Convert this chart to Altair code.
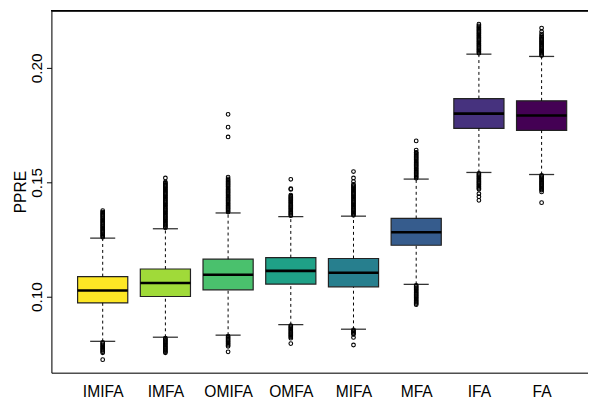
import json
import altair as alt
import pandas as pd

# ---- data ----
categories = ["IMIFA", "IMFA", "OMIFA", "OMFA", "MIFA", "MFA", "IFA", "FA"]
colors = ["#FDE725", "#A0DA39", "#4AC16D", "#1FA187", "#277F8E", "#365C8D", "#46327E", "#440154"]

q1 = [0.0973, 0.1001, 0.1030, 0.1055, 0.1043, 0.1225, 0.1736, 0.1727]
median = [0.1027, 0.1060, 0.1096, 0.1113, 0.1105, 0.1282, 0.1800, 0.1792]
q3 = [0.1088, 0.1121, 0.1164, 0.1171, 0.1167, 0.1342, 0.1866, 0.1856]
whisker_low = [0.0805, 0.0823, 0.0832, 0.0878, 0.0858, 0.1054, 0.1543, 0.1534]
whisker_high = [0.1256, 0.1297, 0.1366, 0.1350, 0.1352, 0.1514, 0.2060, 0.2050]

outliers = {
    "IMIFA": [0.1260, 0.1265, 0.1270, 0.1275, 0.1280, 0.1285, 0.1290, 0.1295, 0.1300,
              0.1305, 0.1310, 0.1315, 0.1320, 0.1325, 0.1330, 0.1335, 0.1340, 0.1345,
              0.1350, 0.1355, 0.1360, 0.1365, 0.1370, 0.1376,
              0.0800, 0.0795, 0.0790, 0.0785, 0.0780, 0.0775, 0.0770, 0.0765, 0.0760,
              0.0755, 0.0725],
    "IMFA": [0.1301, 0.1306, 0.1311, 0.1316, 0.1321, 0.1326, 0.1331, 0.1336, 0.1341,
             0.1346, 0.1351, 0.1356, 0.1361, 0.1366, 0.1371, 0.1376, 0.1381, 0.1386,
             0.1391, 0.1396, 0.1401, 0.1406, 0.1411, 0.1416, 0.1421, 0.1426, 0.1431,
             0.1436, 0.1441, 0.1446, 0.1451, 0.1456, 0.1461, 0.1466, 0.1471, 0.1476,
             0.1481, 0.1486, 0.1491, 0.1496, 0.1501, 0.1519,
             0.0819, 0.0814, 0.0809, 0.0804, 0.0799, 0.0794, 0.0789, 0.0784, 0.0779,
             0.0774, 0.0769, 0.0764, 0.0759, 0.0755],
    "OMIFA": [0.1370, 0.1375, 0.1380, 0.1385, 0.1390, 0.1395, 0.1400, 0.1405, 0.1410,
              0.1415, 0.1420, 0.1425, 0.1430, 0.1435, 0.1440, 0.1445, 0.1450, 0.1455,
              0.1460, 0.1465, 0.1470, 0.1475, 0.1480, 0.1485, 0.1490, 0.1495, 0.1500,
              0.1505, 0.1510, 0.1515, 0.1523, 0.1698, 0.1741, 0.1797,
              0.0828, 0.0823, 0.0818, 0.0813, 0.0808, 0.0803, 0.0798, 0.0793, 0.0788,
              0.0783, 0.0759],
    "OMFA": [0.1354, 0.1359, 0.1364, 0.1369, 0.1374, 0.1379, 0.1384, 0.1389, 0.1394,
             0.1399, 0.1404, 0.1409, 0.1414, 0.1419, 0.1424, 0.1429, 0.1434, 0.1439,
             0.1444, 0.1469, 0.1472, 0.1513,
             0.0874, 0.0869, 0.0864, 0.0859, 0.0854, 0.0849, 0.0844, 0.0839, 0.0834,
             0.0829, 0.0824, 0.0819, 0.0795],
    "MIFA": [0.1356, 0.1361, 0.1366, 0.1371, 0.1376, 0.1381, 0.1386, 0.1391, 0.1396,
             0.1401, 0.1406, 0.1411, 0.1416, 0.1421, 0.1426, 0.1431, 0.1436, 0.1441,
             0.1446, 0.1451, 0.1456, 0.1461, 0.1466, 0.1471, 0.1476, 0.1481, 0.1486,
             0.1491, 0.1503, 0.1519, 0.1547,
             0.0855, 0.0850, 0.0845, 0.0840, 0.0836, 0.0822, 0.0789],
    "MFA": [0.1518, 0.1523, 0.1528, 0.1533, 0.1538, 0.1543, 0.1548, 0.1553, 0.1558,
            0.1563, 0.1568, 0.1573, 0.1578, 0.1583, 0.1588, 0.1593, 0.1598, 0.1603,
            0.1608, 0.1613, 0.1618, 0.1623, 0.1628, 0.1631, 0.1641, 0.1681,
            0.1050, 0.1045, 0.1040, 0.1035, 0.1030, 0.1025, 0.1020, 0.1015, 0.1010,
            0.1005, 0.1000, 0.0995, 0.0990, 0.0985, 0.0980, 0.0975, 0.0970, 0.0965],
    "IFA": [0.2064, 0.2069, 0.2074, 0.2079, 0.2084, 0.2089, 0.2094, 0.2099, 0.2104,
            0.2109, 0.2114, 0.2119, 0.2124, 0.2129, 0.2134, 0.2139, 0.2144, 0.2149,
            0.2154, 0.2159, 0.2164, 0.2169, 0.2174, 0.2179, 0.2184, 0.2191,
            0.1539, 0.1534, 0.1529, 0.1524, 0.1519, 0.1514, 0.1509, 0.1504, 0.1499,
            0.1494, 0.1489, 0.1484, 0.1479, 0.1474, 0.1470, 0.1450, 0.1437, 0.1421],
    "FA": [0.2054, 0.2059, 0.2064, 0.2069, 0.2074, 0.2079, 0.2084, 0.2089, 0.2094,
           0.2099, 0.2104, 0.2109, 0.2114, 0.2119, 0.2124, 0.2129, 0.2134, 0.2140,
           0.2148, 0.2158, 0.2174,
           0.1530, 0.1525, 0.1520, 0.1515, 0.1510, 0.1505, 0.1500, 0.1495, 0.1490,
           0.1485, 0.1480, 0.1475, 0.1470, 0.1466, 0.1458, 0.1411],
}

y_ticks = [0.10, 0.15, 0.20]
y_domain = [0.0668, 0.2250]
x_domain = [0.182, 8.74]

# ---- tables ----
box = pd.DataFrame({
    "cat": categories,
    "idx": list(range(1, len(categories) + 1)),
    "q1": q1, "med": median, "q3": q3, "lw": whisker_low, "uw": whisker_high,
})
box["lo"] = box["idx"] - 0.4
box["hi"] = box["idx"] + 0.4
box["slo"] = box["idx"] - 0.2
box["shi"] = box["idx"] + 0.2

out_rows = []
for i, c in enumerate(categories):
    for v in outliers[c]:
        out_rows.append({"cat": c, "idx": i + 1, "v": v})
outs = pd.DataFrame(out_rows)

W, H = 544, 367

xscale = alt.Scale(domain=x_domain, nice=False, zero=False)
yscale = alt.Scale(domain=y_domain, nice=False, zero=False)
color = alt.Color("cat:N", scale=alt.Scale(domain=categories, range=colors), legend=None)

label_expr = json.dumps(categories) + "[datum.value - 1]"

x_axis = alt.Axis(values=list(range(1, len(categories) + 1)), labelExpr=label_expr,
                  ticks=False, tickSize=0, grid=False, title=None, domainColor="black",
                  domainWidth=1, labelFont="Liberation Sans", labelFontSize=15.8,
                  labelColor="black", labelBaseline="alphabetic", labelPadding=24,
                  labelAngle=0)
y_axis = alt.Axis(values=y_ticks, format=".2f", grid=False, title="PPRE",
                  domainColor="black", domainWidth=1, tickColor="black", tickSize=5,
                  labelFont="Liberation Sans", labelFontSize=15.5, labelColor="black",
                  labelAngle=-90, labelAlign="center", labelBaseline="alphabetic",
                  labelPadding=5, titleFont="Liberation Sans", titleFontSize=15.8,
                  titleFontWeight="normal", titleColor="black", titleAngle=-90,
                  titleBaseline="alphabetic", titleX=-26, titleY=H / 2, titleAlign="center")

base = alt.Chart(box)

rects = base.mark_rect(stroke="#222222", strokeWidth=1.2).encode(
    x=alt.X("lo:Q", scale=xscale, axis=x_axis),
    x2="hi:Q",
    y=alt.Y("q1:Q", scale=yscale, axis=y_axis),
    y2="q3:Q",
    color=color,
)
medians = base.mark_rule(color="black", strokeWidth=2.6).encode(
    x=alt.X("lo:Q", scale=xscale), x2="hi:Q", y=alt.Y("med:Q", scale=yscale))
wh_up = base.mark_rule(color="black", strokeWidth=1, strokeDash=[3, 3]).encode(
    x=alt.X("idx:Q", scale=xscale), y=alt.Y("q3:Q", scale=yscale), y2="uw:Q")
wh_dn = base.mark_rule(color="black", strokeWidth=1, strokeDash=[3, 3]).encode(
    x=alt.X("idx:Q", scale=xscale), y=alt.Y("lw:Q", scale=yscale), y2="q1:Q")
cap_up = base.mark_rule(color="#333333", strokeWidth=1.3).encode(
    x=alt.X("slo:Q", scale=xscale), x2="shi:Q", y=alt.Y("uw:Q", scale=yscale))
cap_dn = base.mark_rule(color="#333333", strokeWidth=1.3).encode(
    x=alt.X("slo:Q", scale=xscale), x2="shi:Q", y=alt.Y("lw:Q", scale=yscale))
points = alt.Chart(outs).mark_point(shape="circle", filled=False, color="black",
                                    size=14, strokeWidth=1.1, opacity=1).encode(
    x=alt.X("idx:Q", scale=xscale), y=alt.Y("v:Q", scale=yscale))
top_line = alt.Chart(box).mark_rule(color="black", strokeWidth=1).encode(
    x=alt.value(0), x2=alt.value(W), y=alt.value(0))

chart = alt.layer(rects, wh_up, wh_dn, cap_up, cap_dn, points, medians, top_line).properties(
    width=W, height=H,
    autosize=alt.AutoSizeParams(type="none"),
    padding={"left": 44, "top": 0, "right": 0, "bottom": 26},
).configure_view(stroke=None).configure(background="white")

chart.save("out.html", embed_options={"renderer": "svg", "actions": False})
